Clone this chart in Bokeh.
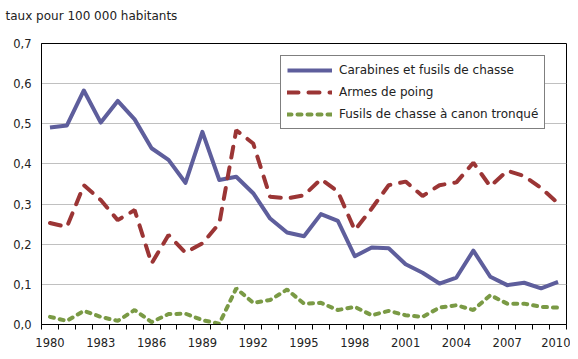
from bokeh.plotting import figure
from bokeh.models import FixedTicker, CustomJSTickFormatter, Legend, LegendItem, Range1d, Title
from bokeh.embed import file_html
from bokeh.resources import INLINE

years = list(range(1980, 2011))
carabines = [0.491, 0.496, 0.583, 0.503, 0.557, 0.511, 0.439, 0.410, 0.353, 0.480,
             0.360, 0.368, 0.327, 0.264, 0.229, 0.220, 0.275, 0.258, 0.170, 0.192,
             0.190, 0.150, 0.129, 0.102, 0.117, 0.184, 0.119, 0.098, 0.104, 0.090, 0.106]
poing = [0.253, 0.243, 0.347, 0.310, 0.260, 0.285, 0.152, 0.223, 0.179, 0.202,
         0.252, 0.484, 0.451, 0.318, 0.314, 0.322, 0.362, 0.331, 0.235, 0.289,
         0.347, 0.356, 0.320, 0.347, 0.354, 0.403, 0.344, 0.383, 0.370, 0.340, 0.302]
tronque = [0.019, 0.009, 0.034, 0.019, 0.009, 0.036, 0.006, 0.026, 0.027, 0.011,
           0.002, 0.090, 0.054, 0.061, 0.087, 0.052, 0.054, 0.036, 0.044, 0.023,
           0.034, 0.023, 0.019, 0.042, 0.048, 0.036, 0.073, 0.052, 0.052, 0.044, 0.042]
labels = ["Carabines et fusils de chasse", "Armes de poing", "Fusils de chasse à canon tronqué"]
label_years = years[::3]
y_ticks = [0.0, 0.1, 0.2, 0.3, 0.4, 0.5, 0.6, 0.7]
unit_title = "taux pour 100 000 habitants"

FONT = "DejaVu Sans"

p = figure(width=570, height=351, output_backend="svg", toolbar_location=None,
           x_range=Range1d(years[0] - 0.5, years[-1] + 0.5),
           y_range=Range1d(0, 0.7),
           min_border_left=41, min_border_right=4, min_border_top=43, min_border_bottom=27)

p.title.text = unit_title
p.title.text_font = FONT
p.title.text_font_size = "12px"
p.title.text_font_style = "normal"
p.title.text_color = "#222222"
p.title.align = "left"
p.title.offset = -36

# empty spacer panel between the unit title and the plot frame
p.add_layout(Title(text=" ", text_font_size="12px", standoff=0), "above")

p.outline_line_color = "black"
p.outline_line_width = 1
p.background_fill_color = "white"
p.border_fill_color = "white"

p.xgrid.visible = False
p.ygrid.grid_line_color = "#c0c0c0"
p.ygrid.grid_line_width = 1
p.ygrid.ticker = FixedTicker(ticks=y_ticks[1:-1])

xa = p.xaxis[0]
xa.ticker = FixedTicker(ticks=label_years, minor_ticks=[y - 0.5 for y in years] + [years[-1] + 0.5])
xa.major_tick_out = 0
xa.major_tick_in = 0
xa.minor_tick_out = 5
xa.minor_tick_in = 0
xa.minor_tick_line_color = "black"
xa.axis_line_color = "black"
xa.major_label_text_font = FONT
xa.major_label_text_font_size = "11.5px"
xa.major_label_text_color = "#222222"
xa.major_label_standoff = 8

ya = p.yaxis[0]
ya.ticker = FixedTicker(ticks=y_ticks)
ya.formatter = CustomJSTickFormatter(code="return tick.toFixed(1).replace('.', ',');")
ya.major_tick_out = 0
ya.major_tick_in = 0
ya.minor_tick_out = 0
ya.minor_tick_in = 0
ya.axis_line_color = "black"
ya.major_label_text_font = FONT
ya.major_label_text_font_size = "11.5px"
ya.major_label_text_color = "#222222"
ya.major_label_standoff = 10

r1 = p.line(years, carabines, line_color="#5e5e9c", line_width=4, line_join="round")
r2 = p.line(years, poing, line_color="#9b3535", line_width=4, line_dash="11 10", line_cap="round")
r3 = p.line(years, tronque, line_color="#7a9a45", line_width=4, line_dash="4 6", line_cap="round")

legend = Legend(items=[LegendItem(label=labels[0], renderers=[r1]),
                       LegendItem(label=labels[1], renderers=[r2]),
                       LegendItem(label=labels[2], renderers=[r3])],
                location=(239, 195))
legend.border_line_color = "black"
legend.border_line_width = 1
legend.background_fill_color = "white"
legend.background_fill_alpha = 1
legend.label_text_font = FONT
legend.label_text_font_size = "12px"
legend.label_text_color = "#222222"
legend.glyph_width = 45
legend.glyph_height = 16
legend.label_height = 16
legend.label_standoff = 7
legend.spacing = 6
legend.padding = 6
legend.margin = 0
p.add_layout(legend, "center")

open("out.html", "w").write(file_html(p, INLINE))
